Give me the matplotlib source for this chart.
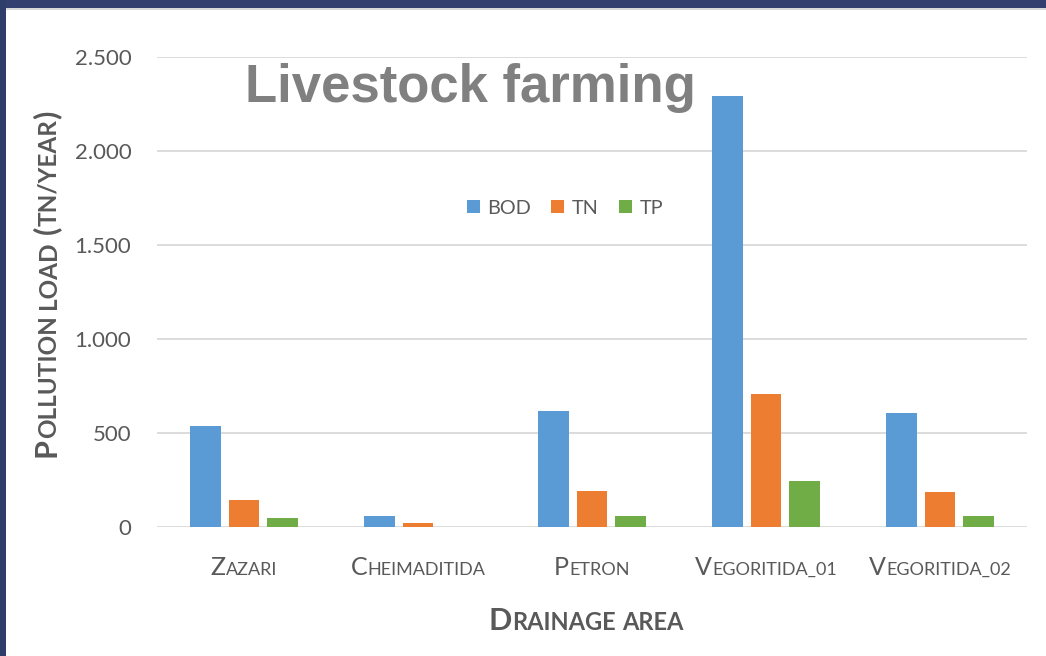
import matplotlib
matplotlib.use("Agg")
import matplotlib.pyplot as plt
import matplotlib.transforms as mtransforms
from matplotlib.patches import Rectangle
import numpy as np

# data
areas = ["Zazari", "Cheimaditida", "Petron", "Vegoritida_01", "Vegoritida_02"]
bod = [537, 58, 617, 2293, 605]
tn = [144, 23, 191, 707, 185]
tp = [46, 2, 58, 245, 58]
yticks = [0, 500, 1000, 1500, 2000, 2500]
ytick_labels = ["0", "500", "1.000", "1.500", "2.000", "2.500"]

BLUE = "#5B9BD5"
ORANGE = "#ED7D31"
GREEN = "#70AD47"
GRAY = "#595959"
FONT = "Lato"

W, H = 1046, 656


def split_smallcaps(label):
    # upper-case letters and brackets stay big, lower-case become small caps
    pieces = []
    for ch in label:
        big = ch.isupper() or ch in "()"
        if ch == " ":
            pieces.append((" ", False))
        elif pieces and pieces[-1][1] == big and pieces[-1][0] != " ":
            pieces[-1] = (pieces[-1][0] + ch.upper(), big)
        else:
            pieces.append((ch.upper(), big))
    return pieces


def smallcaps_text(fig, cx, cy, label, big, small, rotation=0, weight="normal", color=GRAY):
    # cx, cy: centre along text direction / baseline, in pixels
    ident = mtransforms.IdentityTransform()
    renderer = fig.canvas.get_renderer()
    texts = []
    widths = []
    for s, is_big in split_smallcaps(label):
        size = big if is_big else small
        if s == " ":
            texts.append(None)
            widths.append(small * 100 / 72 * 0.28)
            continue
        t = fig.text(0, 0, s, fontsize=size, fontweight=weight, color=color,
                     family=FONT, transform=ident, ha="left", va="baseline")
        texts.append(t)
        widths.append(t.get_window_extent(renderer).width)
    total = sum(widths)
    ang = np.deg2rad(rotation)
    dx, dy = np.cos(ang), np.sin(ang)
    pos = -total / 2
    for t, w in zip(texts, widths):
        if t is not None:
            t.set_position((cx + pos * dx, cy + pos * dy))
            t.set_rotation(rotation)
            t.set_rotation_mode("anchor")
        pos += w


fig = plt.figure(figsize=(W / 100, H / 100), dpi=100, facecolor="white")

# slide background strips
fig.patches.append(Rectangle((0, 1 - 8 / H), 1, 8 / H, transform=fig.transFigure,
                             facecolor="#333f6e", edgecolor="none", zorder=0))
fig.patches.append(Rectangle((0, 1 - 10 / H), 1, 2 / H, transform=fig.transFigure,
                             facecolor="#d9d9d9", edgecolor="none", zorder=0))
fig.patches.append(Rectangle((0, 0), 6 / W, 1, transform=fig.transFigure,
                             facecolor="#2f3d6b", edgecolor="none", zorder=0))

ax = fig.add_axes([157 / W, 1 - 527 / H, (1027 - 157) / W, (527 - 57) / H])
x = np.arange(len(areas))
w = 0.176
step = 0.222
ax.bar(x - step, bod, w, color=BLUE, label="BOD", zorder=3)
ax.bar(x, tn, w, color=ORANGE, label="TN", zorder=3)
ax.bar(x + step, tp, w, color=GREEN, label="TP", zorder=3)

ax.set_xlim(-0.5, len(areas) - 0.5)
ax.set_ylim(0, 2500)
ax.set_yticks(yticks)
ax.set_yticklabels(ytick_labels, fontsize=16, color=GRAY, family=FONT)
ax.set_xticks([])
ax.tick_params(axis="y", length=0, pad=18.5)
ax.grid(axis="y", color="#d9d9d9", linewidth=1.3, zorder=0)
ax.set_axisbelow(True)
for sp in ax.spines.values():
    sp.set_visible(False)

fig.legend(loc="center", bbox_to_anchor=(565 / W, 1 - 208 / H), ncol=3, frameon=False,
           handlelength=0.65, handleheight=0.65, handletextpad=0.4, columnspacing=1.0,
           prop={"family": FONT, "size": 14.3}, labelcolor=GRAY)

fig.text(245 / W, 1 - 102 / H, "Livestock farming", fontsize=38, fontweight="bold",
         color="#808080", family="Liberation Sans", ha="left", va="baseline")

fig.canvas.draw()
for i, name in enumerate(areas):
    px = ax.transData.transform((i, 0))[0]
    smallcaps_text(fig, px, H - 575, name, 18, 13)

smallcaps_text(fig, 586, H - 630, "Drainage area", 22, 17, weight="bold")
smallcaps_text(fig, 56, H - 284, "Pollution load (tn/year)", 22, 17.5, rotation=90, weight="bold")

fig.savefig("out.png", dpi=100)
